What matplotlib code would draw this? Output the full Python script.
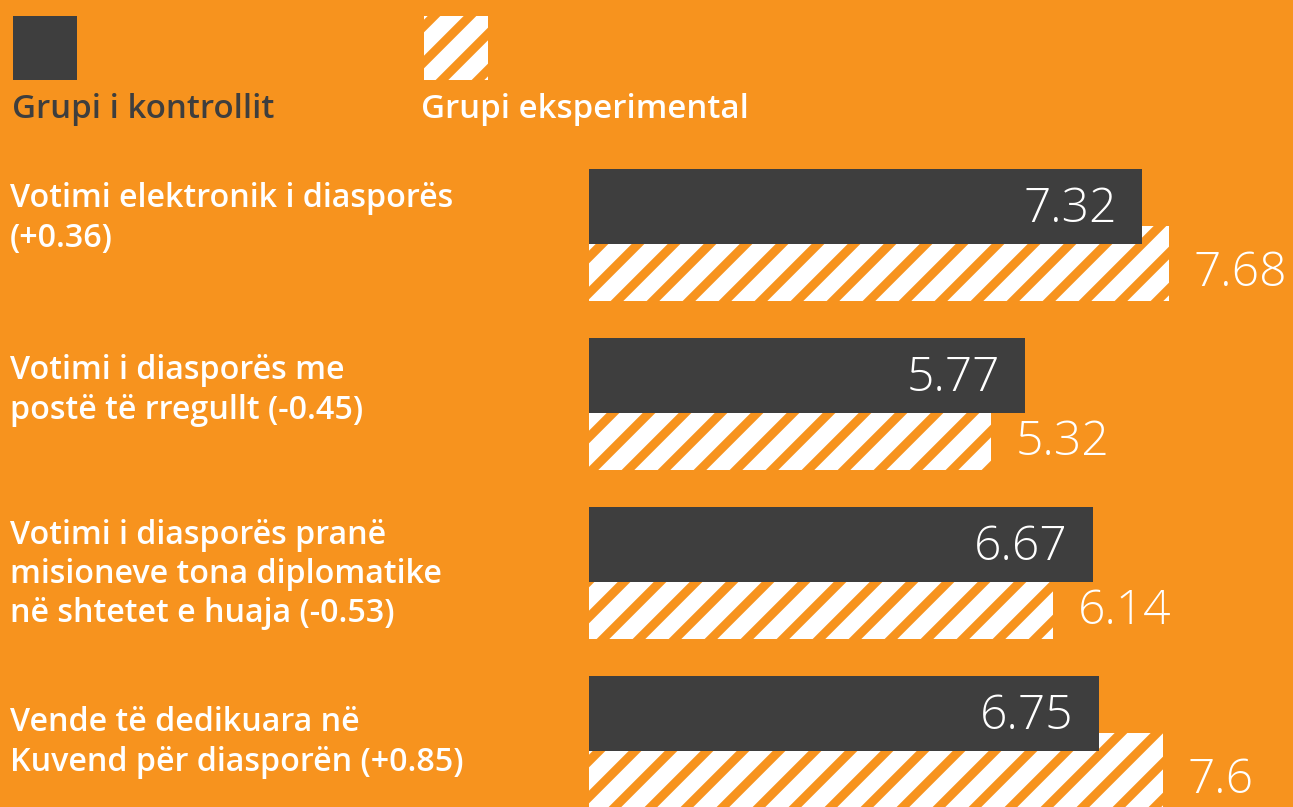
import numpy as np
import matplotlib
matplotlib.use("Agg")
from matplotlib import pyplot as plt
from matplotlib.patches import Rectangle

# data
categories = [
    "Votimi elektronik i diasporës\n(+0.36)",
    "Votimi i diasporës me\npostë të rregullt (-0.45)",
    "Votimi i diasporës pranë\nmisioneve tona diplomatike\nnë shtetet e huaja (-0.53)",
    "Vende të dedikuara në\nKuvend për diasporën (+0.85)",
]
control = [7.32, 5.77, 6.67, 6.75]
experimental = [7.68, 5.32, 6.14, 7.6]
control_label = "Grupi i kontrollit"
exp_label = "Grupi eksperimental"

bg = "#F7931E"
dark = "#3E3E3E"
W, H, DPI = 1293, 807, 108  # dpi picked so '/' hatch period ~36px

plt.rcParams["font.family"] = ["Open Sans", "DejaVu Sans"]
plt.rcParams["hatch.linewidth"] = 11.0

fig = plt.figure(figsize=(W / DPI, H / DPI), dpi=DPI, facecolor=bg)
ax = fig.add_axes([0, 0, 1, 1])
ax.set_facecolor(bg)
ax.axis("off")

px_per_unit = 75.5
x0 = 589
ax.set_xlim(-x0 / px_per_unit, (W - x0) / px_per_unit)
gap = 169.0
first = 206.5
ax.set_ylim((H - first) / gap, -first / gap)

y = np.arange(len(categories))
h = 75 / gap
off = 57 / gap
label_shift = [12, 15, 30, 29]  # px below dark bar centre, as in the original

# hatched bars first, dark on top
hb = ax.barh(y + off, experimental, height=h, color=bg, edgecolor="white",
             linewidth=0, hatch="/", zorder=2)
db = ax.barh(y, control, height=h, color=dark, linewidth=0, zorder=3)

pad = 25 / px_per_unit
for i in range(len(categories)):
    ax.text(control[i] - pad, y[i] + 0.02, f"{control[i]:g}", color="white",
            fontsize=32, fontweight="light", ha="right", va="center", zorder=4)
    ax.text(experimental[i] + pad, y[i] + off + 0.06, f"{experimental[i]:g}",
            color="white", fontsize=32, fontweight="light", ha="left",
            va="center", zorder=4)
    ax.text(-x0 / px_per_unit + 10 / px_per_unit, y[i] + label_shift[i] / gap,
            categories[i], color="white", fontsize=21.5, fontweight="semibold",
            ha="left", va="center", linespacing=1.25)

# legend
fig.patches.append(Rectangle((13 / W, 1 - 80 / H), 64 / W, 64 / H,
                             transform=fig.transFigure, facecolor=dark,
                             linewidth=0))
fig.patches.append(Rectangle((424 / W, 1 - 80 / H), 64 / W, 64 / H,
                             transform=fig.transFigure, facecolor=bg,
                             edgecolor="white", linewidth=0, hatch="/"))
fig.text(12 / W, 1 - 110 / H, control_label, color=dark, fontsize=22,
         fontweight="semibold", ha="left", va="center")
fig.text(421 / W, 1 - 110 / H, exp_label, color="white", fontsize=22,
         fontweight="semibold", ha="left", va="center")

fig.savefig("out.png", dpi=DPI, facecolor=bg)
